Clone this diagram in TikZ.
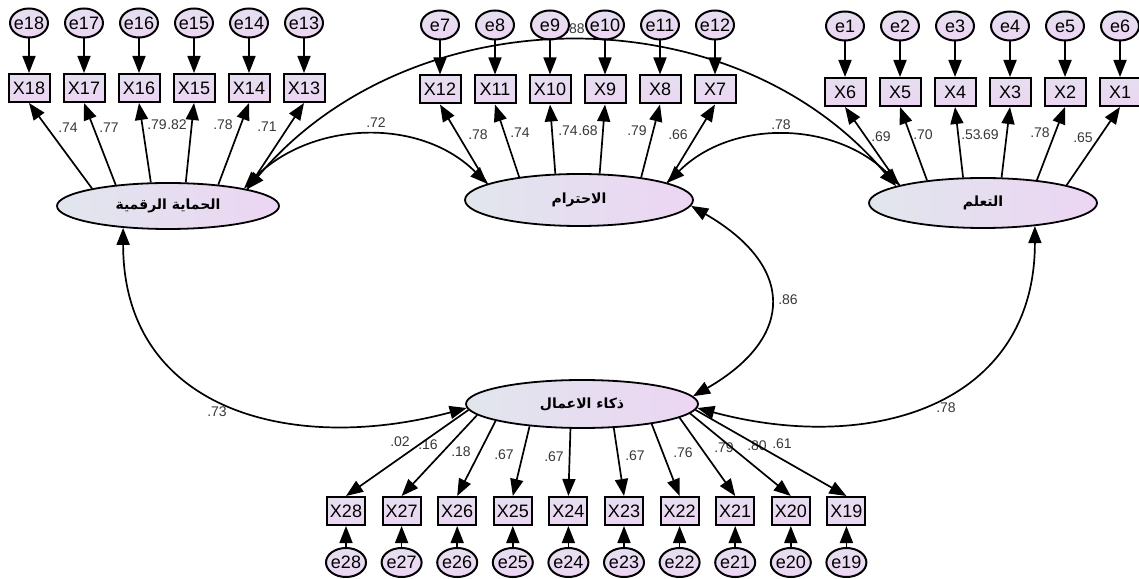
\documentclass[tikz,border=0pt]{standalone}
\usepackage{fontspec}
\setmainfont{Liberation Sans}
\newfontfamily\arabicfont[Script=Arabic]{DejaVu Sans}
\TeXXeTstate=1
\usetikzlibrary{arrows.meta,shapes.geometric}

\definecolor{shadeL}{RGB}{225,230,237}
\definecolor{shadeR}{RGB}{236,213,243}
\definecolor{coefgray}{RGB}{55,55,55}

\tikzset{
  obs/.style={draw, line width=1pt, rectangle, minimum width=20.5pt,
    minimum height=14pt, inner sep=0pt, top color=shadeL!60!shadeR,
    bottom color=shadeR, font=\fontsize{9}{10}\selectfont},
  err/.style={draw, line width=1pt, ellipse, minimum width=19pt,
    minimum height=14.5pt, inner xsep=-1.5pt, inner ysep=0pt,
    top color=shadeL!60!shadeR, bottom color=shadeR,
    font=\fontsize{9}{10}\selectfont},
  lat/.style={draw, line width=0.9pt, ellipse, minimum width=114pt,
    minimum height=25pt, left color=shadeL, right color=shadeR,
    font=\arabicfont\bfseries\fontsize{7}{8}\selectfont},
  regr/.style={line width=0.85pt, -{Triangle[length=8.5pt,width=6.5pt]}},
  covar/.style={line width=0.85pt,
    {Triangle[length=8.5pt,width=6.5pt]}-{Triangle[length=8.5pt,width=6.5pt]}},
  coef/.style={font=\fontsize{7}{8}\selectfont, text=coefgray, inner sep=0pt},
}

\begin{document}
\begin{tikzpicture}[x=0.5pt,y=0.5pt]
  \useasboundingbox (0,0) rectangle (1139,578);
  % estimates (first, so that lines and circles lie over them)
  \foreach \x/\y/\t [count=\k] in {68/450/.74, 109/450/.77, 157/453/.79,
      177/453/.82, 223/453/.78, 267/451/.71, 376/455/.72,
      478/443/.78, 520/445/.74, 568/447/.74, 588/447/.68, 637/447/.79,
      678/443/.66, 575/549/.88,
      781/453/.78, 881/441/.69, 923/443/.70, 971/443/.53, 989/443/.69,
      1040/445/.78, 1083/440/.65,
      400/136/.02, 428/133/.16, 461/126/.18, 504/123/.67, 554/121/.67,
      635/122/.67, 683/125/.76, 724/130/.79, 757/132/.80, 782/134/.61,
      217/166/.73, 788/278/.86, 946/170/.78}
    \node[coef] (c\k) at (\x,\y) {\t};

  % latente Variablen
  \node[lat, minimum width=111pt, minimum height=23pt] (prot) at (168,372)
    {\beginR الحماية الرقمية\endR};
  \node[lat, minimum height=26pt] (resp) at (579,378) {\beginR الاحترام\endR};
  \node[lat] (learn) at (983,375) {\beginR التعلم\endR};
  \node[lat, minimum width=116pt, minimum height=24pt] (bi) at (582,174)
    {\beginR ذكاء الاعمال\endR};

  % Indikatoren oben links
  \foreach \n [count=\i from 0] in {18,17,...,13}{
    \node[obs] (X\n) at (29+55*\i,490) {X\n};
    \node[err] (e\n) at (29+55*\i,555) {e\n};
    \draw[regr] (e\n) -- (X\n);
  }
  % Indikatoren oben Mitte
  \foreach \n/\m [count=\i from 0] in {12/7,11/8,10/9,9/10,8/11,7/12}{
    \node[obs] (X\n) at (440+55*\i,488.5) {X\n};
    \node[err] (e\m) at (440+55*\i,553) {e\m};
    \draw[regr] (e\m) -- (X\n);
  }
  % Indikatoren oben rechts
  \foreach \n/\m [count=\i from 0] in {6/1,5/2,4/3,3/4,2/5,1/6}{
    \node[obs] (X\n) at (845+55*\i,486) {X\n};
    \node[err] (e\m) at (845+55*\i,552) {e\m};
    \draw[regr] (e\m) -- (X\n);
  }
  % Indikatoren unten
  \foreach \n [count=\i from 0] in {28,27,...,19}{
    \node[obs, minimum width=19pt] (X\n) at (346+55.6*\i,67) {X\n};
    \node[err, minimum width=20pt] (e\n) at (346+55.6*\i,15.5) {e\n};
    \draw[regr] (e\n) -- (X\n);
  }

  % Ladungen
  \foreach \n/\a in {18/167,17/158,16/126,15/53,14/23,13/12}
    \draw[regr] (prot.\a) -- (X\n.south);
  \foreach \n/\a in {12/170,11/159,10/132,9/52,8/20,7/11}
    \draw[regr] (resp.\a) -- (X\n.south);
  \foreach \n/\a in {6/168,5/158,4/128,3/54,2/23,1/12}
    \draw[regr] (learn.\a) -- (X\n.south);
  \foreach \n/\a in {28/183,27/186,26/191,25/203,24/245,23/323,22/344,21/352,20/355,19/357}
    \draw[regr] (bi.\a) -- (X\n.north);

  % Kovarianzen
  \draw[covar] (prot.13) to[out=45,in=135] (resp.170);
  \draw[covar] (prot.12) to[out=50,in=130] (learn.169);
  \draw[covar] (resp.11) to[out=45,in=135] (learn.168);
  \draw[covar] (resp.-3) to[out=-30,in=30,looseness=1.6] (bi.4);
  \draw[covar] (prot.206) to[out=-90,in=195,looseness=1.2] (bi.182);
  \draw[covar] (learn.-24) to[out=-90,in=-15,looseness=1.2] (bi.-2);
\end{tikzpicture}
\end{document}
